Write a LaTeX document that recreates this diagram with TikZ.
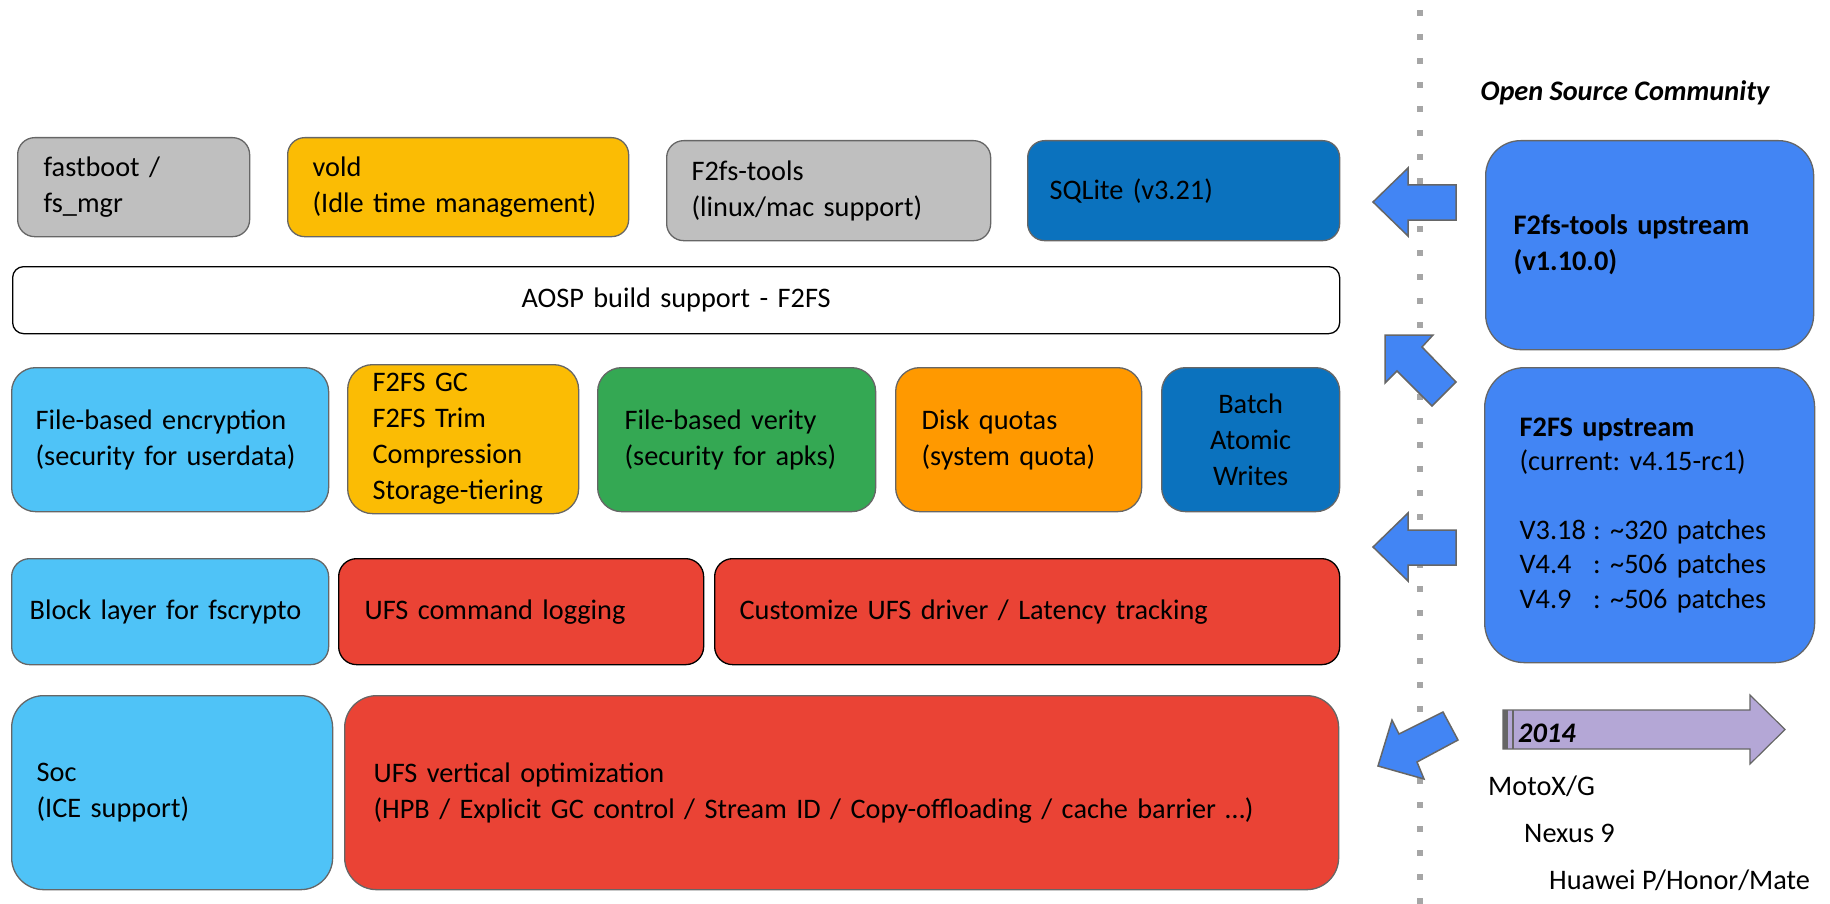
\documentclass[tikz,border=0pt]{standalone}
\usepackage{fontspec}
\setmainfont{Carlito}
\frenchspacing

\definecolor{edgegray}{HTML}{666666}
\definecolor{toolgray}{HTML}{BFBFBF}
\definecolor{amber}{HTML}{FBBC04}
\definecolor{deepblue}{HTML}{0B72BE}
\definecolor{skyblue}{HTML}{4FC3F7}
\definecolor{veritygreen}{HTML}{34A853}
\definecolor{quotaorange}{HTML}{FF9900}
\definecolor{ufsred}{HTML}{EA4335}
\definecolor{upblue}{HTML}{4285F4}
\definecolor{lavender}{HTML}{B4A7D6}
\definecolor{dotgray}{HTML}{A6A6A6}

\newcommand{\slidefont}{\fontsize{28.3}{36}\selectfont}

\begin{document}
\begin{tikzpicture}[x=1pt, y=-1pt,
    blk/.style={draw=edgegray, line width=1.3pt, anchor=north west, inner xsep=#1, inner ysep=0pt, align=left, font=\slidefont},
    blk/.default=25pt,
    blkarrow/.style={draw=edgegray, line width=1.5pt, fill=upblue, line join=miter},
    plain/.style={anchor=west, inner sep=0pt, font=\slidefont}]

    \useasboundingbox (0,0) rectangle (1830,904);

    % open source side
    \draw[dotgray, line width=6pt, dash pattern=on 6pt off 18pt] (1420,10) -- (1420,904);
    \node[font=\slidefont\bfseries\itshape] (community) at (1625,93) {Open Source Community};

    % first row
    \node[blk=26pt, fill=toolgray, text width=180, minimum height=99, rounded corners=17] (fastboot) at (17,137) {fastboot /\\fs\_mgr};
    \node[blk, fill=amber, text width=291, minimum height=99, rounded corners=17] (vold) at (287,137) {vold\\(Idle time management)};
    \node[blk, fill=toolgray, text width=274, minimum height=100, rounded corners=17] (f2tools) at (666,140) {F2fs-tools\\(linux/mac support)};
    \node[blk=22pt, fill=deepblue, text width=268, minimum height=100, rounded corners=17] (sqlite) at (1027,140) {SQLite (v3.21)};

    \node[blk, draw=black, fill=white, align=center, text width=1277, minimum height=67, rounded corners=11] (aosp) at (12,266) {AOSP build support - F2FS};

    % third row
    \node[blk=24pt, fill=skyblue, text width=269, minimum height=144, rounded corners=24] (fbe) at (11,367) {File-based encryption\\(security for userdata)};
    \node[blk=25pt, fill=amber, text width=181, minimum height=149, rounded corners=25] (gc) at (347,364) {F2FS GC\\F2FS Trim\\Compression\\Storage-tiering};
    \node[blk=27pt, fill=veritygreen, text width=224, minimum height=144, rounded corners=24] (verity) at (597,367) {File-based verity\\(security for apks)};
    \node[blk=26pt, fill=quotaorange, text width=194, minimum height=144, rounded corners=24] (quota) at (895,367) {Disk quotas\\(system quota)};
    \node[blk=10pt, fill=deepblue, align=center, text width=158, minimum height=144, rounded corners=24] (batch) at (1161,367) {Batch\\Atomic\\Writes};

    % fourth row
    \node[blk=18pt, fill=skyblue, text width=281, minimum height=106, rounded corners=18] (block) at (11,558) {Block layer for fscrypto};
    \node[blk=26pt, draw=black, fill=ufsred, text width=313, minimum height=106, rounded corners=18] (ufscmd) at (338,558) {UFS command logging};
    \node[blk, draw=black, fill=ufsred, text width=575, minimum height=106, rounded corners=18] (ufsdrv) at (714,558) {Customize UFS driver / Latency tracking};

    % fifth row
    \node[blk, fill=skyblue, text width=271, minimum height=194, rounded corners=32] (soc) at (11,695) {Soc\\(ICE support)};
    \node[blk=29pt, fill=ufsred, text width=936, minimum height=194, rounded corners=32] (ufsopt) at (344,695) {UFS vertical optimization\\(HPB / Explicit GC control / Stream ID / Copy-offloading / cache barrier …)};

    % upstream boxes
    \node[blk=28pt, fill=upblue, text width=272, minimum height=209, rounded corners=35, font=\slidefont\bfseries] (toolsup) at (1485,140) {F2fs-tools upstream\\(v1.10.0)};
    \node[blk=35pt, fill=upblue, text width=260, minimum height=295, rounded corners=40, font=\fontsize{28.3}{34.5}\selectfont] (f2fsup) at (1484,367) {\textbf{F2FS upstream}\\(current: v4.15-rc1)\\[34pt]\makebox[2.6em][l]{V3.18}: \textasciitilde320 patches\\\makebox[2.6em][l]{V4.4}: \textasciitilde506 patches\\\makebox[2.6em][l]{V4.9}: \textasciitilde506 patches};

    % block arrows
    \filldraw[blkarrow] (1373,202) -- (1408,168) -- (1408,185) -- (1456,185) -- (1456,220) -- (1408,220) -- (1408,236) -- cycle;
    \filldraw[blkarrow] (1385,335) -- (1433,335) -- (1422,347) -- (1456,382) -- (1432,406) -- (1397,371) -- (1385,383) -- cycle;
    \filldraw[blkarrow] (1373,547) -- (1408,513) -- (1408,530) -- (1456,530) -- (1456,565) -- (1408,565) -- (1408,581) -- cycle;
    \filldraw[blkarrow] (1378,766) -- (1392,720) -- (1399,734) -- (1443,712) -- (1458,740) -- (1417,762) -- (1424,779) -- cycle;

    % timeline
    \filldraw[draw=edgegray, line width=1.2pt, fill=lavender] (1503,710) -- (1750,710) -- (1750,695) -- (1785,729.5) -- (1750,764) -- (1750,749) -- (1503,749) -- cycle;
    \fill[edgegray] (1503,710) rectangle (1508,749);
    \draw[edgegray, line width=1.2pt] (1513,710) -- (1513,749);
    \node[plain, font=\slidefont\bfseries\itshape] (year) at (1518,733) {2014};

    \node[plain] (motox) at (1488,786) {MotoX/G};
    \node[plain] (nexus) at (1524,833) {Nexus 9};
    \node[plain] (huawei) at (1549,880) {Huawei P/Honor/Mate};
\end{tikzpicture}
\end{document}
